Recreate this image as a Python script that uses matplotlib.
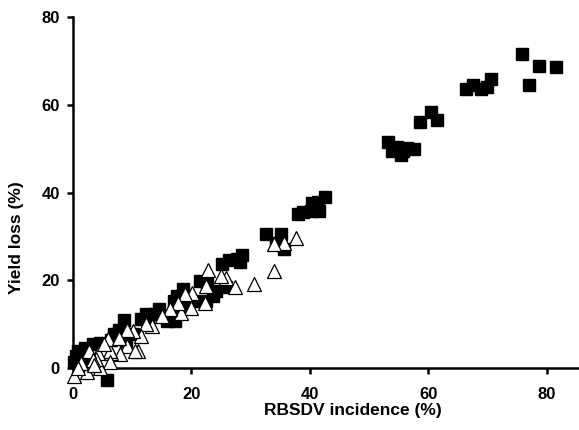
import numpy as np
import matplotlib
matplotlib.use("Agg")
import matplotlib.pyplot as plt

# filled squares (incidence %, yield loss %)
sq_x = [75.7, 76.9, 78.7, 81.5, 66.4, 67.5, 68.8, 69.9, 70.5, 60.5, 61.5, 58.6,
        53.2, 53.8, 54.7, 55.7, 56.3, 57.5, 55.3, 42.6, 41.3, 40.4, 41.6, 40.1,
        37.9, 38.8, 32.6, 35.1, 34.2, 35.7, 28.6, 27.6, 26.4, 25.1, 28.2, 21.4,
        22.6, 24.2, 25.8, 23.6, 22.4, 18.6, 17.6, 17.0, 17.0, 17.3, 15.8, 14.5,
        13.9, 12.3, 11.4, 12.7, 8.6, 7.7, 7.0, 6.4, 4.6, 3.3, 2.1, 0.8, 0.5, 0.2,
        5.8, 1.1, 2.7, 18.9, 20.4, 10.2, 8.9]
sq_y = [71.6, 64.5, 68.9, 68.7, 63.6, 64.5, 63.7, 64.2, 65.8, 58.3, 56.5, 56.0,
        51.5, 49.6, 50.5, 49.6, 50.2, 49.9, 48.6, 38.9, 37.9, 37.7, 35.8, 35.8,
        35.1, 35.6, 30.5, 30.5, 28.5, 27.2, 25.9, 24.9, 24.7, 23.7, 24.1, 19.9,
        19.1, 17.6, 18.5, 16.5, 15.3, 18.0, 16.5, 15.3, 13.0, 10.7, 10.7, 13.4,
        12.3, 12.3, 11.1, 10.7, 10.9, 8.8, 7.7, 6.5, 5.7, 5.4, 4.6, 3.8, 2.7, 1.5,
        -2.7, 0.0, 1.5, 14.2, 15.3, 7.7, 6.1]

# open triangles
tri_x = [37.6, 35.7, 34.0, 33.9, 30.6, 27.3, 25.9, 25.0, 22.8, 22.4, 22.2, 20.1,
         20.0, 18.9, 18.3, 17.8, 16.4, 15.1, 13.3, 12.3, 11.4, 10.9, 10.2, 9.2,
         8.0, 6.4, 6.3, 5.9, 6.3, 4.6, 4.2, 3.9, 2.4, 2.7, 1.4, 0.2, 0.8, 9.2,
         10.5, 7.7, 5.2, 3.3, 3.6]
tri_y = [29.7, 28.5, 28.3, 22.1, 19.1, 18.4, 20.5, 21.0, 22.4, 18.7, 14.9, 17.2,
         13.8, 16.8, 12.6, 14.9, 13.4, 11.9, 9.6, 10.1, 7.3, 3.8, 8.4, 5.0,
         3.2, 3.4, 3.8, 6.7, 1.4, 0.0, 3.4, 2.1, -0.8, 3.8, 1.1, -1.9, 0.0, 8.8,
         3.8, 6.9, 5.4, 1.9, 0.8]

x_ticks = [0, 20, 40, 60, 80]
y_ticks = [0, 20, 40, 60, 80]

plt.rcParams["font.family"] = ["Liberation Sans", "DejaVu Sans"]
plt.rcParams["font.weight"] = "bold"

fig = plt.figure(figsize=(5.79, 4.30), dpi=100)
ax = fig.add_axes([0.126, 0.10, 0.874, 0.86])

ax.plot(sq_x, sq_y, "s", color="black", markersize=8.6, linestyle="none",
        clip_on=False, zorder=3)
ax.plot(tri_x, tri_y, "^", markerfacecolor="white", markeredgecolor="black",
        markeredgewidth=0.9, markersize=10, linestyle="none", clip_on=False,
        zorder=4)

ax.set_xlim(0, 85.4)
ax.set_ylim(-4.3, 80)
ax.spines["top"].set_visible(False)
ax.spines["right"].set_visible(False)
ax.spines["bottom"].set_position(("data", 0))
ax.spines["left"].set_bounds(0, 80)
for s in ["left", "bottom"]:
    ax.spines[s].set_linewidth(1.8)

ax.set_xticks(x_ticks)
ax.set_yticks(y_ticks)
ax.tick_params(width=1.8, length=4.5, labelsize=12)
ax.tick_params(axis="x", pad=9)
ax.tick_params(axis="y", pad=5)
for lab in ax.get_xticklabels() + ax.get_yticklabels():
    lab.set_fontweight("bold")

ax.set_xlabel("RBSDV incidence (%)", fontsize=12.5, fontweight="bold")
ax.set_ylabel("Yield loss (%)", fontsize=12.5, fontweight="bold")
ax.xaxis.set_label_coords(0.553, -0.043)
ax.yaxis.set_label_coords(-0.097, 0.405)

fig.savefig("out.png", dpi=100)
